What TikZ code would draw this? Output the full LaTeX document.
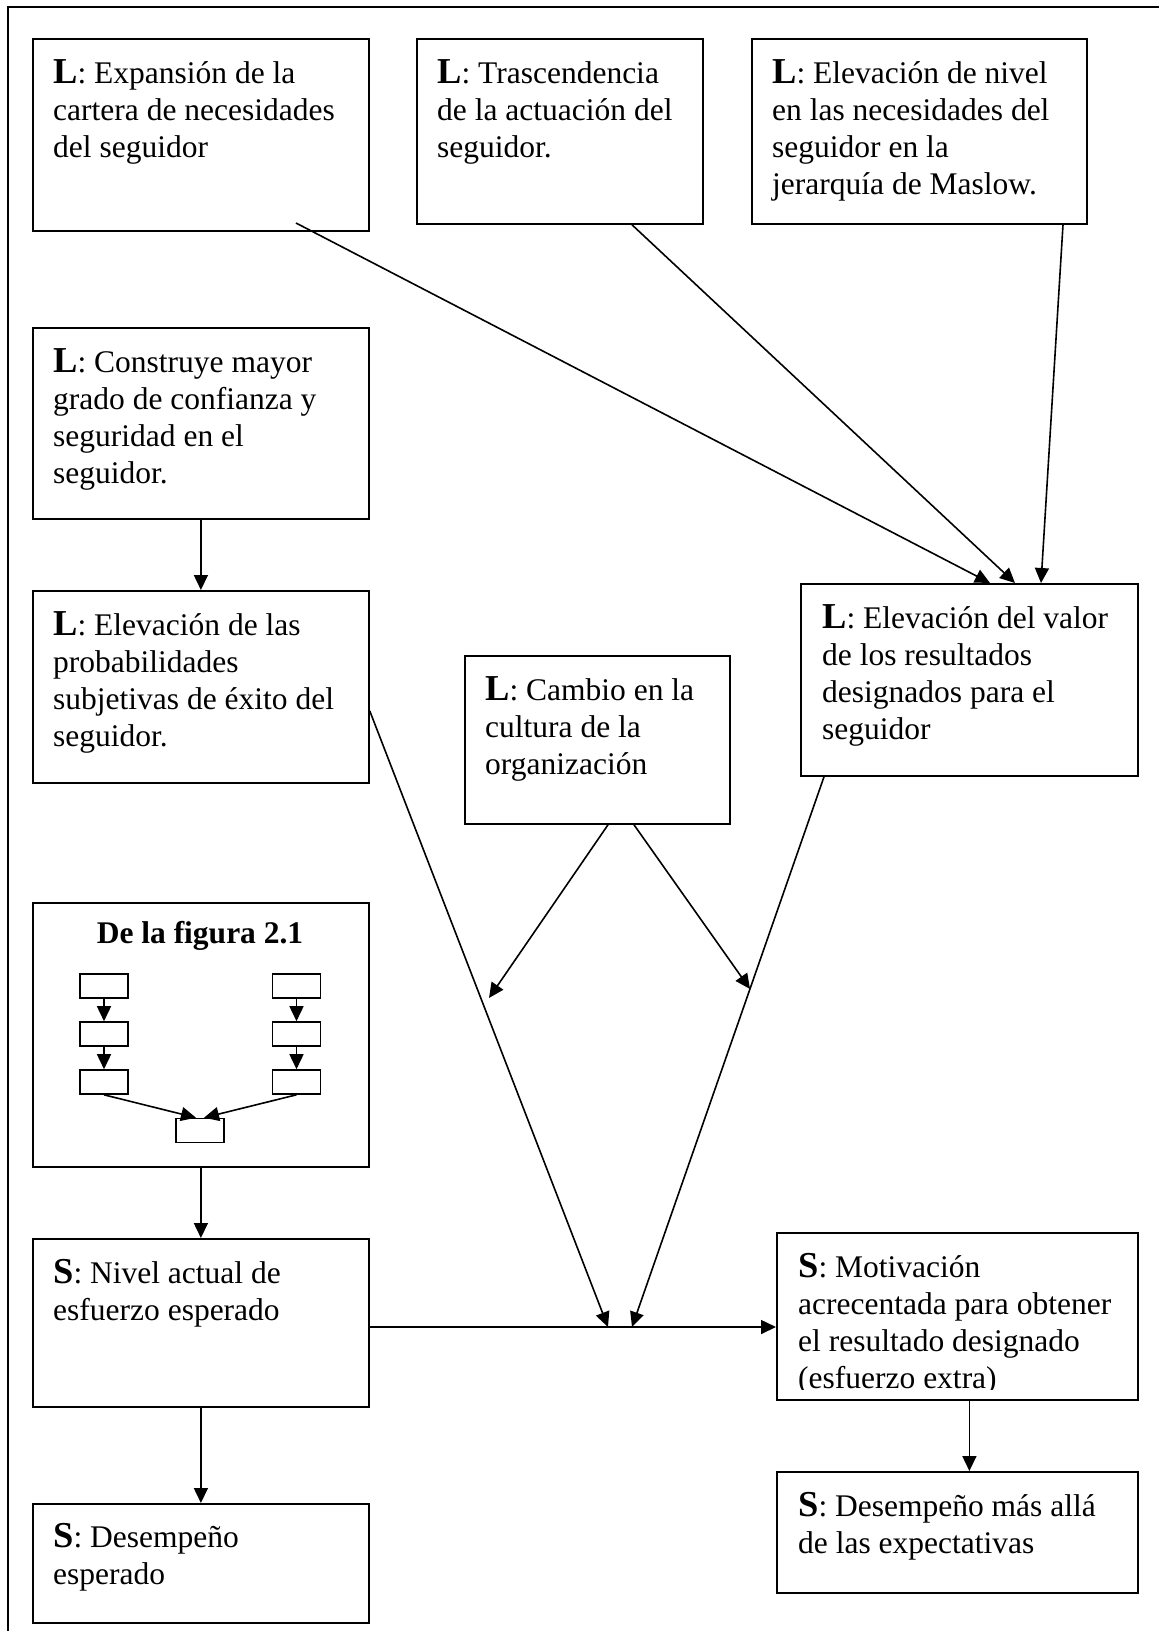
\documentclass[tikz,border=0pt]{standalone}
\usepackage{fontspec}
\setmainfont{Liberation Serif}
\usetikzlibrary{arrows.meta}
% bold, slightly larger lead letter (L / S)
\newcommand\lead[1]{{\fontsize{36.5}{37}\selectfont\bfseries #1}}
% fixes the height of the first text line
\newcommand\firstline{\rule{0pt}{30pt}}
\begin{document}
\begin{tikzpicture}[x=1pt,y=-1pt,
  box/.style={draw,line width=1.8pt,anchor=north west,inner sep=0pt},
  txt/.style={anchor=north west,inner sep=0pt,align=left,font=\fontsize{31.5}{37}\selectfont},
  mbox/.style={draw,line width=1.6pt,minimum width=48pt,minimum height=24pt,inner sep=0pt},
  link/.style={line width=1.6pt},
  arr/.style={link,-{Triangle[length=15pt,width=14pt]}}]

\useasboundingbox (0,0) rectangle (1159,1631);
\fill[white] (0,0) rectangle (1159,1631);
\clip (0,0) rectangle (1159,1631);

% page frame (only its left and top sides fall inside the picture)
\draw[line width=2pt] (8,1631) -- (8,7) -- (1159,7);

% ---------- boxes ----------
\node[box,minimum width=336pt,minimum height=192pt] (b1) at (32,38) {};
\node[box,minimum width=286pt,minimum height=185pt] (b2) at (416,38) {};
\node[box,minimum width=335pt,minimum height=185pt] (b3) at (751,38) {};
\node[box,minimum width=336pt,minimum height=191pt] (b4) at (32,327) {};
\node[box,minimum width=336pt,minimum height=192pt] (b5) at (32,590) {};
\node[box,minimum width=265pt,minimum height=168pt] (b6) at (464,655) {};
\node[box,minimum width=337pt,minimum height=192pt] (b7) at (800,583) {};
\node[box,minimum width=336pt,minimum height=264pt] (b8) at (32,902) {};
\node[box,minimum width=336pt,minimum height=168pt] (b9) at (32,1238) {};
\node[box,minimum width=336pt,minimum height=119pt] (b10) at (32,1503) {};
\node[box,minimum width=361pt,minimum height=167pt] (b11) at (776,1232) {};
\node[box,minimum width=361pt,minimum height=121pt] (b12) at (776,1471) {};

% ---------- texts ----------
\node[txt] (t1) at ([shift={(21,15)}]b1.north west)
  {\firstline\lead{L}: Expansión de la\\cartera de necesidades\\del seguidor};
\node[txt] (t2) at ([shift={(21,15)}]b2.north west)
  {\firstline\lead{L}: Trascendencia\\de la actuación del\\seguidor.};
\node[txt] (t3) at ([shift={(21,15)}]b3.north west)
  {\firstline\lead{L}: Elevación de nivel\\en las necesidades del\\seguidor en la\\jerarquía de Maslow.};
\node[txt] (t4) at ([shift={(21,15)}]b4.north west)
  {\firstline\lead{L}: Construye mayor\\grado de confianza y\\seguridad en el\\seguidor.};
\node[txt] (t5) at ([shift={(21,15)}]b5.north west)
  {\firstline\lead{L}: Elevación de las\\probabilidades\\subjetivas de éxito del\\seguidor.};
\node[txt] (t6) at ([shift={(21,15)}]b6.north west)
  {\firstline\lead{L}: Cambio en la\\cultura de la\\organización};
\node[txt] (t7) at ([shift={(22,15)}]b7.north west)
  {\firstline\lead{L}: Elevación del valor\\de los resultados\\designados para el\\seguidor};
\node[txt] (t9) at ([shift={(21,15)}]b9.north west)
  {\firstline\lead{S}: Nivel actual de\\esfuerzo esperado};
\node[txt] (t10) at ([shift={(21,14)}]b10.north west)
  {\firstline\lead{S}: Desempeño\\esperado};
\begin{scope}
  \clip (776,1232) rectangle (1137,1389);
  \node[txt] (t11) at ([shift={(22,15)}]b11.north west)
    {\firstline\lead{S}: Motivación\\acrecentada para obtener\\el resultado designado\\(esfuerzo extra)};
\end{scope}
\node[txt] (t12) at ([shift={(22,15)}]b12.north west)
  {\firstline\lead{S}: Desempeño más allá\\de las expectativas};

% ---------- small inset diagram ----------
\node[anchor=base,inner sep=0pt,font=\fontsize{31.5}{37}\selectfont\bfseries] (ft) at (200,943) {De la figura 2.1};
\node[mbox] (l1) at (104,986) {};
\node[mbox] (l2) at (104,1034) {};
\node[mbox] (l3) at (104,1082) {};
\node[mbox] (r1) at (296.5,986) {};
\node[mbox] (r2) at (296.5,1034) {};
\node[mbox] (r3) at (296.5,1082) {};
\node[mbox] (mb) at (200,1130.5) {};
\draw[arr] (l1) -- (l2);
\draw[arr] (l2) -- (l3);
\draw[arr] (r1) -- (r2);
\draw[arr] (r2) -- (r3);
\draw[arr] (l3.south) -- ([xshift=-4pt]mb.north);
\draw[arr] (r3.south) -- ([xshift=4pt]mb.north);

% ---------- connectors ----------
\coordinate (s1) at (296,223);
\coordinate (m1) at (608,1327);
\coordinate (m2) at (632,1327);
\coordinate (c1) at (489,998);
\coordinate (c2) at (750,989);

\draw[arr] (s1) -- (b7.north -| 990,0);
\draw[arr] (b2.south -| 632,0) -- (b7.north -| 1015,0);
\draw[arr] (b3.south -| 1063,0) -- (b7.north -| 1041,0);

\draw[arr] (b4.south) -- (b5.north);
\draw[arr] (b5.east |- 0,711) -- (m1);
\draw[arr] (b7.south -| 824,0) -- (m2);
\draw[arr] (b6.south -| 608,0) -- (c1);
\draw[arr] (b6.south -| 634,0) -- (c2);

\draw[arr] (b8.south) -- (b9.north);
\draw[arr] (b9.south) -- (b10.north);
\draw[arr] (b9.east |- 0,1327) -- (b11.west |- 0,1327);
\draw[arr] ([xshift=12pt]b11.south) -- ([xshift=12pt]b12.north);

\end{tikzpicture}
\end{document}
